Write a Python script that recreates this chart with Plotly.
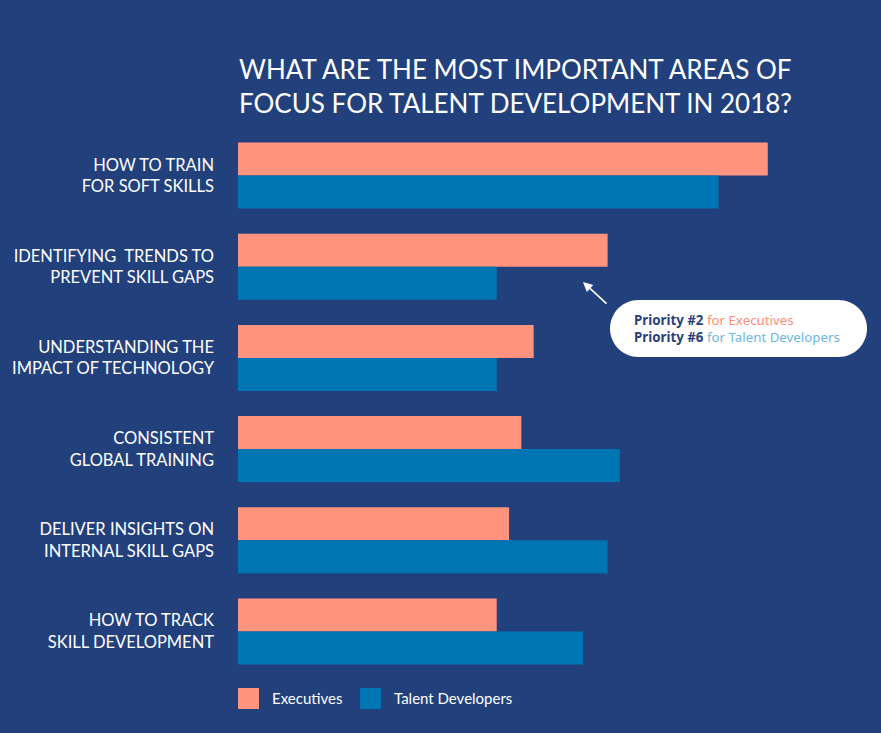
import plotly.graph_objects as go

categories = [
    "HOW TO TRAIN<br>FOR SOFT SKILLS",
    "IDENTIFYING  TRENDS TO<br>PREVENT SKILL GAPS",
    "UNDERSTANDING THE<br>IMPACT OF TECHNOLOGY",
    "CONSISTENT<br>GLOBAL TRAINING",
    "DELIVER INSIGHTS ON<br>INTERNAL SKILL GAPS",
    "HOW TO TRACK<br>SKILL DEVELOPMENT",
]
executives = [43, 30, 24, 23, 22, 21]
talent_developers = [39, 21, 21, 31, 30, 28]
series_names = ["Executives", "Talent Developers"]

BG = "#22407c"
SALMON = "#ff937e"
BLUE = "#0075b4"
FONT = "Lato, 'Open Sans', sans-serif"

W, H = 881, 733
ML, MR, MT, MB = 238, 27, 130, 56
PW, PH = W - ML - MR, H - MT - MB


def px(x):
    return (x - ML) / PW


def py(y):
    return (H - MB - y) / PH


fig = go.Figure()
fig.add_trace(go.Bar(y=categories, x=executives, orientation="h", name=series_names[0],
                     marker=dict(color=SALMON, line=dict(width=0)), showlegend=False))
fig.add_trace(go.Bar(y=categories, x=talent_developers, orientation="h", name=series_names[1],
                     marker=dict(color=BLUE, line=dict(width=0)), showlegend=False))

shapes = []
annotations = []

# Title
annotations.append(dict(
    text="WHAT ARE THE MOST IMPORTANT AREAS OF<br>FOCUS FOR TALENT DEVELOPMENT IN 2018?",
    xref="paper", yref="paper", x=px(237), y=py(86), xanchor="left", yanchor="middle",
    align="left", showarrow=False, font=dict(family=FONT, size=26, color="white"),
))

# Legend (manual, larger swatches)
for i, (name, col, sx, tx) in enumerate([(series_names[0], SALMON, 238, 270),
                                        (series_names[1], BLUE, 360, 392)]):
    shapes.append(dict(type="rect", xref="paper", yref="paper",
                       x0=px(sx), x1=px(sx + 21), y0=py(709), y1=py(688),
                       fillcolor=col, line=dict(width=0)))
    annotations.append(dict(text=name, xref="paper", yref="paper", x=px(tx), y=py(698),
                            xanchor="left", yanchor="middle", showarrow=False,
                            font=dict(family=FONT, size=15, color="white")))

# Callout pill
x0, x1, y0, y1 = 610, 867, 300, 357
r = (y1 - y0) / 2
k = 0.5523 * r
pts = [
    f"M{px(x0 + r)},{py(y0)}",
    f"L{px(x1 - r)},{py(y0)}",
    f"C{px(x1 - r + k)},{py(y0)} {px(x1)},{py(y0 + r - k)} {px(x1)},{py(y0 + r)}",
    f"C{px(x1)},{py(y0 + r + k)} {px(x1 - r + k)},{py(y1)} {px(x1 - r)},{py(y1)}",
    f"L{px(x0 + r)},{py(y1)}",
    f"C{px(x0 + r - k)},{py(y1)} {px(x0)},{py(y1 - r + k)} {px(x0)},{py(y1 - r)}",
    f"C{px(x0)},{py(y0 + r - k)} {px(x0 + r - k)},{py(y0)} {px(x0 + r)},{py(y0)}",
    "Z",
]
shapes.append(dict(type="path", xref="paper", yref="paper", path=" ".join(pts),
                   fillcolor="white", line=dict(width=0)))

CALL_FONT = "'Source Sans Pro', 'Noto Sans', 'Open Sans', sans-serif"
annotations.append(dict(
    text=("<b>Priority #2</b> <span style='color:#ff8c78'>for Executives</span><br>"
          "<b>Priority #6</b> <span style='color:#6cb8e0'>for Talent Developers</span>"),
    xref="paper", yref="paper", x=px(632), y=py(328), xanchor="left", yanchor="middle",
    align="left", showarrow=False, font=dict(family=CALL_FONT, size=13.3, color="#2b3f7a"),
))

# Arrow
annotations.append(dict(
    text="", xref="paper", yref="paper", x=px(583), y=py(282),
    ax=25, ay=23, axref="pixel", ayref="pixel",
    showarrow=True, arrowhead=2, arrowsize=1.2, arrowwidth=1.6, arrowcolor="white",
))

fig.update_layout(
    width=W, height=H,
    paper_bgcolor=BG, plot_bgcolor=BG,
    margin=dict(l=ML, r=MR, t=MT, b=MB),
    barmode="group", bargap=0.276, bargroupgap=0,
    xaxis=dict(range=[0, 50], visible=False, fixedrange=True),
    yaxis=dict(categoryorder="array", categoryarray=categories, range=[5.5, -0.5],
               showgrid=False, zeroline=False, showline=False, fixedrange=True,
               ticks="", ticklabelstandoff=23,
               tickfont=dict(family=FONT, size=16.5, color="white")),
    shapes=shapes, annotations=annotations,
    showlegend=False,
)

fig.write_html("out.html", config={"displayModeBar": False},
               post_script="document.body.style.margin='0';document.body.style.background='#22407c';")
